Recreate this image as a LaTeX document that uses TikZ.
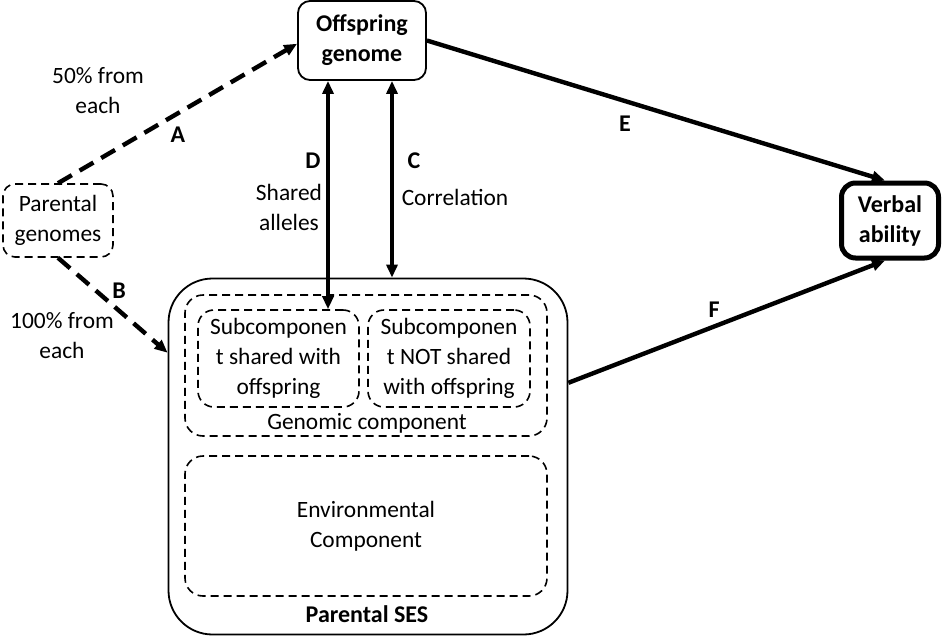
\documentclass[tikz,border=0pt]{standalone}
\usepackage{fontspec}
\setmainfont{Carlito}
\usetikzlibrary{arrows.meta,calc,positioning}

\begin{document}
\begin{tikzpicture}[x=0.5pt,y=-0.5pt,
            every node/.style={align=center, inner sep=0pt, font=\fontsize{11.7}{15}\selectfont},
            box/.style={draw, line width=0.9pt, rounded corners=6pt},
            dbox/.style={draw, line width=0.8pt, dash pattern=on 4pt off 2.5pt, rounded corners=9pt},
            lbl/.style={font=\fontsize{12}{15}\selectfont\bfseries},
            to/.style={-{Triangle[length=6.5pt,width=5.5pt]}, line width=2.2pt},
            both/.style={{Triangle[length=6.5pt,width=5.5pt]}-{Triangle[length=6.5pt,width=5.5pt]}, line width=2.2pt},
            dto/.style={to, dash pattern=on 8pt off 4.5pt}
  ]
  \useasboundingbox (0,0) rectangle (942,637);

  \node[box, lbl, minimum width=64pt, minimum height=39.5pt] (genome) at (362,40.5) {Offspring\\genome};
  \node[dbox, rounded corners=6pt, minimum width=55pt, minimum height=36.5pt] (parents) at (58,220.5) {Parental\\genomes};
  \node[box, lbl, line width=2.5pt, rounded corners=7pt, minimum width=48.5pt, minimum height=37.5pt] (verbal) at (890,220.5) {Verbal\\ability};

  \node[box, rounded corners=22pt, minimum width=199.5pt, minimum height=178pt] (ses) at (368,456.5) {};
  \node[dbox, minimum width=181pt, minimum height=70.5pt] (genomic) at (366,365.5) {};
  \node[dbox, rounded corners=8pt, minimum width=80.5pt, minimum height=48.5pt] (sub1) at (278.5,358.5) {Subcomponen\\t shared with\\offspring};
  \node[dbox, rounded corners=8pt, minimum width=81pt, minimum height=48.5pt] (sub2) at (449,358.5) {Subcomponen\\t NOT shared\\with offspring};
  \node (genlabel) at (367,423) {Genomic component};
  \node[dbox, minimum width=181pt, minimum height=70pt] (env) at (366,526) {Environmental\\Component};
  \node[lbl] (seslabel) at (367,614) {Parental SES};

  % edge labels
  \node (half) at (98,91) {50\% from\\each};
  \node[lbl] (la) at (178,135) {A};
  \node[lbl] (lb) at (119,291) {B};
  \node (full) at (62,336) {100\% from\\each};
  \node[lbl] (ld) at (313,161) {D};
  \node (shared) at (289,207) {Shared\\alleles};
  \node[lbl] (lc) at (414,161) {C};
  \node (corr) at (455,197) {Correlation};
  \node[lbl] (le) at (625,124) {E};
  \node[lbl] (lf) at (714,310) {F};

  \coordinate (dx) at (328,0);
  \coordinate (cx) at (392,0);

  \draw[dto] (parents.north) -- ($(genome.north west)!0.54!(genome.south west)$);
  \draw[dto] (parents.south) -- ($(ses.north west)!0.21!(ses.south west)$);
  \draw[both] (genome.south -| dx) -- (sub1.north -| dx);
  \draw[both] (genome.south -| cx) -- (ses.north -| cx);
  \draw[to] (genome.east) -- ($(verbal.north)+(-5,0)$);
  \draw[to] ($(ses.north east)!0.294!(ses.south east)$) -- ($(verbal.south)+(-5,0)$);

\end{tikzpicture}
\end{document}
